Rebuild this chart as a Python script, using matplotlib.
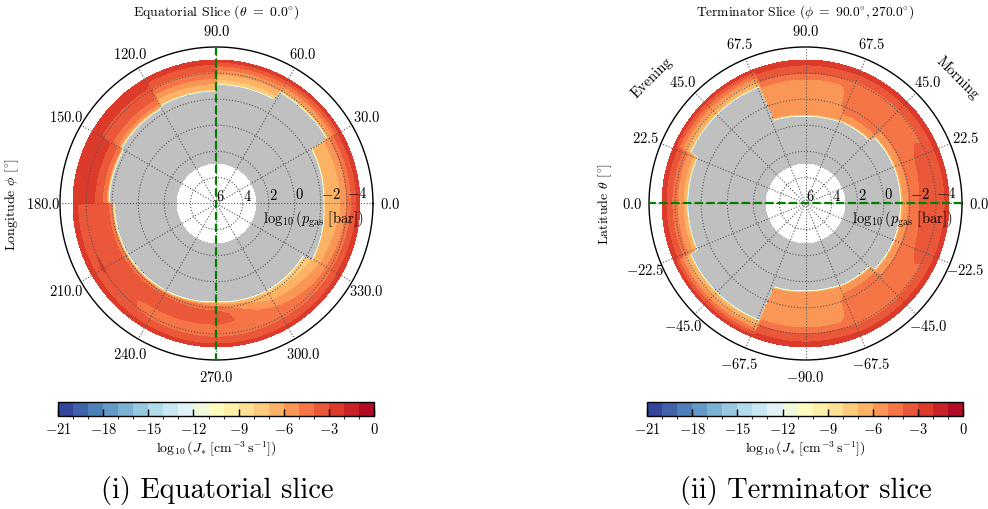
import numpy as np
import matplotlib
matplotlib.use("Agg")
import matplotlib.pyplot as plt
from matplotlib.colors import ListedColormap, BoundaryNorm
from matplotlib.cm import ScalarMappable

plt.rcParams.update({
    "font.family": "serif",
    "font.serif": ["cmr10"],
    "mathtext.fontset": "cm",
    "axes.unicode_minus": False,
    "axes.formatter.use_mathtext": True,
})

# Pressure levels (log10 bar) at which log10 J* is tabulated
p_levels = [-0.5, -1.0, -1.5, -2.0, -2.5, -3.0, -3.5, -4.0, -4.5, -5.0]
p_top, p_bottom = -5.0, 2.9          # extent of the model grid
r_zero = 6.0                         # radial coordinate r = 6 - log10(p)

# ---- Equatorial slice (theta = 0): longitude nodes --------------------------
eq_lon = [0, 29.5, 30.5, 60.5, 61.5, 89.5, 90.5, 119, 121, 149, 151, 179.5,
          180.5, 210, 240, 270, 300, 328.5, 329.5, 360]
# log10 p of the top of the non-nucleating (grey) region
eq_base = [-2.2, -2.4, -3.8, -3.8, -3.1, -3.1, -2.6, -2.6, -2.4, -2.4, -2.2, -2.2,
           -1.8, -1.8, -1.7, -1.5, -1.7, -1.75, -2.5, -2.2]
eq_logj = [
    [-6.6, -6.6, -6.6, -6.6, -6.6, -6.5, -6.1, -5.0, -3.6, -2.4],
    [-6.6, -6.6, -6.6, -6.6, -6.6, -6.5, -6.1, -5.0, -3.6, -2.4],
    [-6.5, -6.5, -6.5, -6.5, -6.5, -6.5, -6.5, -6.5, -4.5, -2.4],
    [-6.5, -6.5, -6.5, -6.5, -6.5, -6.5, -6.5, -6.5, -4.5, -2.4],
    [-8.0, -8.0, -8.0, -8.0, -8.0, -8.0, -7.0, -5.8, -4.2, -2.4],
    [-8.0, -8.0, -8.0, -8.0, -8.0, -8.0, -7.0, -5.8, -4.2, -2.4],
    [-7.5, -7.5, -7.5, -7.5, -7.5, -6.5, -5.2, -4.2, -3.4, -2.3],
    [-7.5, -7.5, -7.5, -7.5, -7.5, -6.5, -5.2, -4.2, -3.4, -2.3],
    [-6.0, -6.0, -6.0, -6.0, -6.0, -4.5, -3.6, -3.3, -2.7, -2.2],
    [-6.0, -6.0, -6.0, -6.0, -6.0, -4.5, -3.6, -3.3, -2.7, -2.2],
    [-4.5, -4.5, -4.5, -4.5, -4.5, -3.5, -2.8, -2.6, -2.4, -2.2],
    [-4.5, -4.5, -4.5, -4.5, -4.5, -3.5, -2.8, -2.6, -2.4, -2.2],
    [-5.0, -5.0, -5.0, -4.5, -3.6, -3.5, -3.5, -3.4, -3.2, -2.5],
    [-5.0, -5.0, -5.0, -4.5, -3.6, -3.5, -3.4, -2.9, -3.3, -2.5],
    [-5.0, -5.0, -5.0, -4.2, -3.5, -3.6, -4.3, -4.4, -3.6, -2.5],
    [-7.0, -7.0, -7.0, -4.5, -3.4, -3.5, -4.5, -4.4, -3.6, -2.5],
    [-8.0, -8.0, -8.0, -7.0, -6.2, -5.2, -4.6, -4.3, -3.6, -2.5],
    [-8.0, -8.0, -8.0, -7.5, -7.0, -6.2, -5.5, -4.5, -3.5, -2.5],
    [-7.0, -7.0, -7.0, -6.8, -6.6, -6.3, -5.5, -4.4, -3.3, -2.4],
    [-6.6, -6.6, -6.6, -6.6, -6.6, -6.5, -6.1, -5.0, -3.6, -2.4],
]
eq_ticks_deg = [0, 30, 60, 90, 120, 150, 180, 210, 240, 270, 300, 330]

# ---- Terminator slice: polar angle nodes for the northern half -------------
# (0 = morning equator, 90 = north pole, 180 = evening equator)
tm_ang = [0, 20, 35, 43.5, 44.5, 66, 74, 90, 110.5, 111.5, 156, 157, 180]
tm_base = [-1.25, -1.3, -1.3, -1.3, -0.85, -0.8, -0.7, -0.65, -0.8, -3.6, -3.6,
           -3.0, -3.0]
tm_logj = [
    [-6.0, -6.0, -6.0, -4.8, -4.4, -3.6, -3.4, -3.8, -3.4, -2.4],
    [-6.0, -6.0, -6.0, -4.8, -4.5, -4.0, -3.6, -3.8, -3.4, -2.4],
    [-6.0, -6.0, -6.0, -5.0, -4.5, -4.4, -4.3, -4.2, -3.4, -2.4],
    [-6.0, -6.0, -6.0, -5.0, -4.5, -4.4, -4.3, -4.2, -3.4, -2.4],
    [-6.0, -6.0, -5.0, -4.6, -4.5, -4.5, -4.5, -4.3, -3.4, -2.4],
    [-6.0, -6.0, -5.0, -4.6, -4.5, -4.5, -4.5, -4.3, -3.4, -2.4],
    [-6.5, -5.6, -5.5, -5.5, -5.5, -5.4, -5.1, -4.0, -3.2, -2.4],
    [-6.5, -5.6, -5.5, -5.5, -5.5, -5.4, -5.1, -4.0, -3.2, -2.4],
    [-6.5, -5.6, -5.5, -5.5, -5.5, -5.4, -5.1, -4.0, -3.2, -2.4],
    [-7.0, -7.0, -7.0, -7.0, -7.0, -7.0, -7.0, -6.5, -4.5, -2.4],
    [-7.0, -7.0, -7.0, -7.0, -7.0, -7.0, -7.0, -6.5, -4.5, -2.4],
    [-7.0, -7.0, -7.0, -7.0, -7.0, -6.8, -5.8, -4.6, -3.4, -2.4],
    [-7.0, -7.0, -7.0, -7.0, -7.0, -6.8, -5.8, -4.6, -3.4, -2.4],
]
tm_ticks_deg = list(np.arange(0, 360, 22.5))
tm_tick_labels = ["0.0", "22.5", "45.0", "67.5", "90.0", "67.5", "45.0", "22.5",
                  "0.0", "-22.5", "-45.0", "-67.5", "-90.0", "-67.5", "-45.0", "-22.5"]

r_tick_labels = ["6", "4", "2", "0", "-2", "-4"]
cbar_ticks = [-21, -18, -15, -12, -9, -6, -3, 0]
j_levels = np.arange(-21, 1, 1)

# Discrete RdYlBu_r with one colour per decade, grey below the range
base_cmap = plt.get_cmap("RdYlBu_r")
cmap = ListedColormap(base_cmap((np.arange(len(j_levels) - 1) + 0.5) / (len(j_levels) - 1)))
cmap.set_under("#c0c0c0")
norm = BoundaryNorm(j_levels, cmap.N)


def build_field(node_deg, base, table):
    th = np.arange(0.0, 360.25, 0.25)
    lp = np.linspace(p_bottom, p_top, 900)
    b = np.interp(th, node_deg, base)
    tab = np.asarray(table, dtype=float)
    prof = np.array([np.interp(th, node_deg, tab[:, k]) for k in range(tab.shape[1])])
    lv = np.asarray(p_levels)[::-1]
    z = np.empty((lp.size, th.size))
    for j in range(th.size):
        z[:, j] = np.interp(lp, lv, prof[::-1, j])
    # sharp rise of the rate just above the grey (non-nucleating) region
    d = b[None, :] - lp[:, None]
    ramp = np.minimum(-16 + 70 * d, -9.5 + 18 * d)
    z = np.where(d < 0, -40.0, np.minimum(z, ramp))
    return np.radians(th), r_zero - lp, z


def mirror(nodes, vals):
    nodes = list(nodes)
    vals = list(vals)
    return (nodes + [360 - a for a in reversed(nodes[:-1])],
            vals + list(reversed(vals[:-1])))


fig = plt.figure(figsize=(9.88, 5.10), dpi=100)
ax_l = fig.add_axes([0.0607, 0.2922, 0.3168, 0.6137], projection="polar")
ax_r = fig.add_axes([0.6569, 0.2922, 0.3168, 0.6137], projection="polar")

tm_full, tm_base_full = mirror(tm_ang, tm_base)
_, tm_logj_full = mirror(tm_ang, tm_logj)

panels = [
    (ax_l, eq_lon, eq_base, eq_logj, eq_ticks_deg,
     [f"${v:.1f}$" for v in eq_ticks_deg]),
    (ax_r, tm_full, tm_base_full, tm_logj_full, tm_ticks_deg,
     [f"${s}$" for s in tm_tick_labels]),
]

for ax, nodes, base, table, tdeg, tlab in panels:
    th, rr, z = build_field(nodes, base, table)
    ax.contourf(th, rr, z, levels=j_levels, cmap=cmap, norm=norm, extend="min",
                zorder=1)
    ax.set_ylim(0, 12)
    ax.set_yticks([0, 2, 4, 6, 8, 10])
    ax.set_yticklabels([f"${s}$" for s in r_tick_labels], fontsize=10.5)
    ax.set_rlabel_position(1.5)
    ax.set_thetagrids(tdeg, tlab, fontsize=10.5)
    ax.tick_params(axis="x", pad=1.5)
    ax.grid(True, color="#555555", linestyle=":", linewidth=0.8)
    ax.spines["polar"].set_linewidth(1.0)
    ax.text(0.808, 0.452, r"$\log_{10}(p_{\mathrm{gas}}\ [\mathrm{bar}])$",
            transform=ax.transAxes, ha="center", va="center", fontsize=10.5)

# meridian / equator markers
ax_l.plot([np.pi / 2, np.pi / 2, 3 * np.pi / 2, 3 * np.pi / 2], [12, 0, 0, 12],
          color="#008000", linestyle="--", linewidth=1.6, zorder=5, clip_on=False)
ax_r.plot([0, 0, np.pi, np.pi], [12, 0, 0, 12],
          color="#008000", linestyle="--", linewidth=1.6, zorder=5, clip_on=False)

ax_l.text(0.5, 1.115, r"Equatorial Slice ($\theta\ =\ 0.0^{\circ}$)",
          transform=ax_l.transAxes, ha="center", va="center", fontsize=10)
ax_r.text(0.5, 1.115, r"Terminator Slice ($\phi\ =\ 90.0^{\circ}, 270.0^{\circ}$)",
          transform=ax_r.transAxes, ha="center", va="center", fontsize=9.7)
ax_l.text(-0.153, 0.5, r"Longitude $\phi$ [$^{\circ}$]", transform=ax_l.transAxes,
          rotation=90, ha="center", va="center", fontsize=10)
ax_r.text(-0.14, 0.5, r"Latitude $\theta$ [$^{\circ}$]", transform=ax_r.transAxes,
          rotation=90, ha="center", va="center", fontsize=10)
ax_r.text(0.01, 0.904, "Evening", transform=ax_r.transAxes, rotation=45,
          ha="center", va="center", fontsize=10.5)
ax_r.text(0.987, 0.904, "Morning", transform=ax_r.transAxes, rotation=-45,
          ha="center", va="center", fontsize=10.5)

for left in (0.0587, 0.6549):
    cax = fig.add_axes([left, 0.182, 0.32, 0.0275])
    cb = fig.colorbar(ScalarMappable(norm=norm, cmap=cmap), cax=cax,
                      orientation="horizontal", ticks=cbar_ticks)
    cb.ax.set_xticklabels([f"${t}$" for t in cbar_ticks], fontsize=10.5)
    cb.ax.tick_params(direction="in", length=5, width=1, color="black")
    cb.outline.set_linewidth(1.0)
    cb.set_label(r"$\log_{10}(J_{*}\ [\mathrm{cm}^{-3}\,\mathrm{s}^{-1}])$",
                 fontsize=10, labelpad=2)

fig.text(0.2195, 0.039, "(i) Equatorial slice", ha="center", va="center", fontsize=20.5)
fig.text(0.8155, 0.039, "(ii) Terminator slice", ha="center", va="center", fontsize=20.5)

fig.savefig("out.png", dpi=100)
